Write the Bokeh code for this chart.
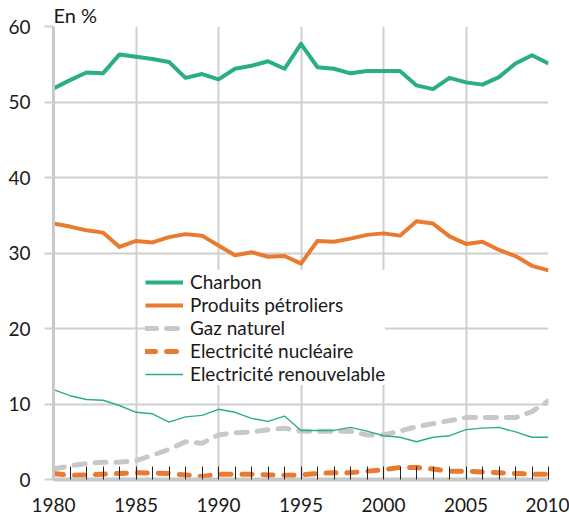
from bokeh.plotting import figure
from bokeh.models import (ColumnDataSource, Legend, LegendItem, Range1d,
                          SingleIntervalTicker, FixedTicker)
from bokeh.embed import file_html
from bokeh.resources import INLINE

years = list(range(1980, 2011))
charbon = [51.8, 52.9, 53.9, 53.8, 56.3, 56.0, 55.7, 55.3, 53.2, 53.7, 53.0, 54.4, 54.8, 55.4, 54.4,
           57.7, 54.6, 54.4, 53.8, 54.1, 54.1, 54.1, 52.2, 51.7, 53.2, 52.6, 52.3, 53.3, 55.1, 56.2, 55.1]
petrole = [33.9, 33.5, 33.0, 32.7, 30.8, 31.6, 31.4, 32.1, 32.5, 32.3, 31.0, 29.7, 30.1, 29.5, 29.6,
           28.6, 31.6, 31.5, 31.9, 32.4, 32.6, 32.3, 34.2, 33.9, 32.2, 31.2, 31.5, 30.4, 29.6, 28.3, 27.7]
gaz = [1.4, 1.8, 2.1, 2.3, 2.3, 2.5, 3.2, 4.0, 5.0, 4.8, 5.9, 6.2, 6.3, 6.6, 6.8,
       6.4, 6.4, 6.4, 6.4, 5.9, 5.9, 6.4, 7.0, 7.4, 7.8, 8.2, 8.2, 8.2, 8.2, 9.0, 10.4]
nucleaire = [0.8, 0.55, 0.6, 0.7, 0.8, 0.9, 0.85, 0.8, 0.6, 0.4, 0.7, 0.7, 0.7, 0.6, 0.55,
             0.6, 0.8, 0.9, 0.9, 1.1, 1.3, 1.6, 1.6, 1.4, 1.1, 1.1, 1.0, 0.9, 0.8, 0.7, 0.7]
renouvelable = [11.9, 11.1, 10.6, 10.5, 9.8, 8.9, 8.7, 7.6, 8.3, 8.5, 9.3, 8.9, 8.1, 7.7, 8.4,
                6.5, 6.5, 6.5, 6.9, 6.4, 5.8, 5.6, 5.0, 5.6, 5.8, 6.6, 6.8, 6.9, 6.3, 5.6, 5.6]

names = ["Charbon", "Produits pétroliers", "Gaz naturel", "Electricité nucléaire", "Electricité renouvelable"]
y_ticks = [0, 10, 20, 30, 40, 50, 60]
unit_label = "En %"

GREEN = "#2aae88"
ORANGE = "#e87b30"
GREY = "#c8c8c8"
GRID = "#cfcfcf"
FONT = "Lato"
TXT = "#1a1a1a"

src = ColumnDataSource(dict(year=years, charbon=charbon, petrole=petrole, gaz=gaz,
                            nucleaire=nucleaire, renouvelable=renouvelable))

p = figure(frame_width=495, frame_height=453, min_border_left=53, min_border_right=21,
           min_border_top=26, min_border_bottom=43, output_backend="svg",
           toolbar_location=None, x_range=Range1d(1980, 2010), y_range=Range1d(0, 60),
           title=unit_label)
p.outline_line_color = None
p.background_fill_color = "white"

p.title.align = "left"
p.title.text_font = FONT
p.title.text_font_size = "20px"
p.title.text_font_style = "normal"
p.title.text_color = TXT
p.title.standoff = 0
p.title.offset = 0

r1 = p.line("year", "charbon", source=src, line_color=GREEN, line_width=4, line_join="round")
r2 = p.line("year", "petrole", source=src, line_color=ORANGE, line_width=4, line_join="round")
r3 = p.line("year", "gaz", source=src, line_color=GREY, line_width=5, line_dash="11 10",
            line_cap="round", line_join="round")
r4 = p.line("year", "nucleaire", source=src, line_color=ORANGE, line_width=5, line_dash="10 11",
            line_cap="round", line_join="round")
r5 = p.line("year", "renouvelable", source=src, line_color=GREEN, line_width=1.4, line_join="round")

# grids
p.xgrid.ticker = SingleIntervalTicker(interval=5)
p.xgrid.grid_line_color = GRID
p.xgrid.grid_line_width = 2
p.ygrid.ticker = FixedTicker(ticks=y_ticks)
p.ygrid.grid_line_color = GRID
p.ygrid.grid_line_width = 2

# x axis
p.xaxis.ticker = SingleIntervalTicker(interval=5, num_minor_ticks=5)
p.xaxis.axis_line_color = GREY
p.xaxis.axis_line_width = 4
p.xaxis.major_tick_line_color = None
p.xaxis.major_tick_in = 0
p.xaxis.major_tick_out = 0
p.xaxis.minor_tick_line_color = "#222222"
p.xaxis.minor_tick_line_width = 1
p.xaxis.minor_tick_in = 13
p.xaxis.minor_tick_out = 0
p.xaxis.major_label_standoff = 18
p.xaxis.major_label_text_font = FONT
p.xaxis.major_label_text_font_size = "19px"
p.xaxis.major_label_text_color = TXT

# y axis
p.yaxis.ticker = FixedTicker(ticks=y_ticks)
p.yaxis.axis_line_color = GREY
p.yaxis.axis_line_width = 3
p.yaxis.major_tick_line_color = GRID
p.yaxis.major_tick_line_width = 2
p.yaxis.major_tick_in = 0
p.yaxis.major_tick_out = 9
p.yaxis.minor_tick_line_color = None
p.yaxis.major_label_standoff = 14
p.yaxis.major_label_text_font = FONT
p.yaxis.major_label_text_font_size = "19px"
p.yaxis.major_label_text_color = TXT

legend = Legend(items=[LegendItem(label=n, renderers=[r]) for n, r in zip(names, [r1, r2, r3, r4, r5])],
                location=(92, 94), padding=0, spacing=0, margin=0,
                glyph_width=38, glyph_height=22, label_height=22, label_standoff=7,
                label_text_font=FONT, label_text_font_size="19px", label_text_color=TXT,
                border_line_color=None, background_fill_color="white", background_fill_alpha=1)
p.add_layout(legend)

open("out.html", "w").write(file_html(p, INLINE))
